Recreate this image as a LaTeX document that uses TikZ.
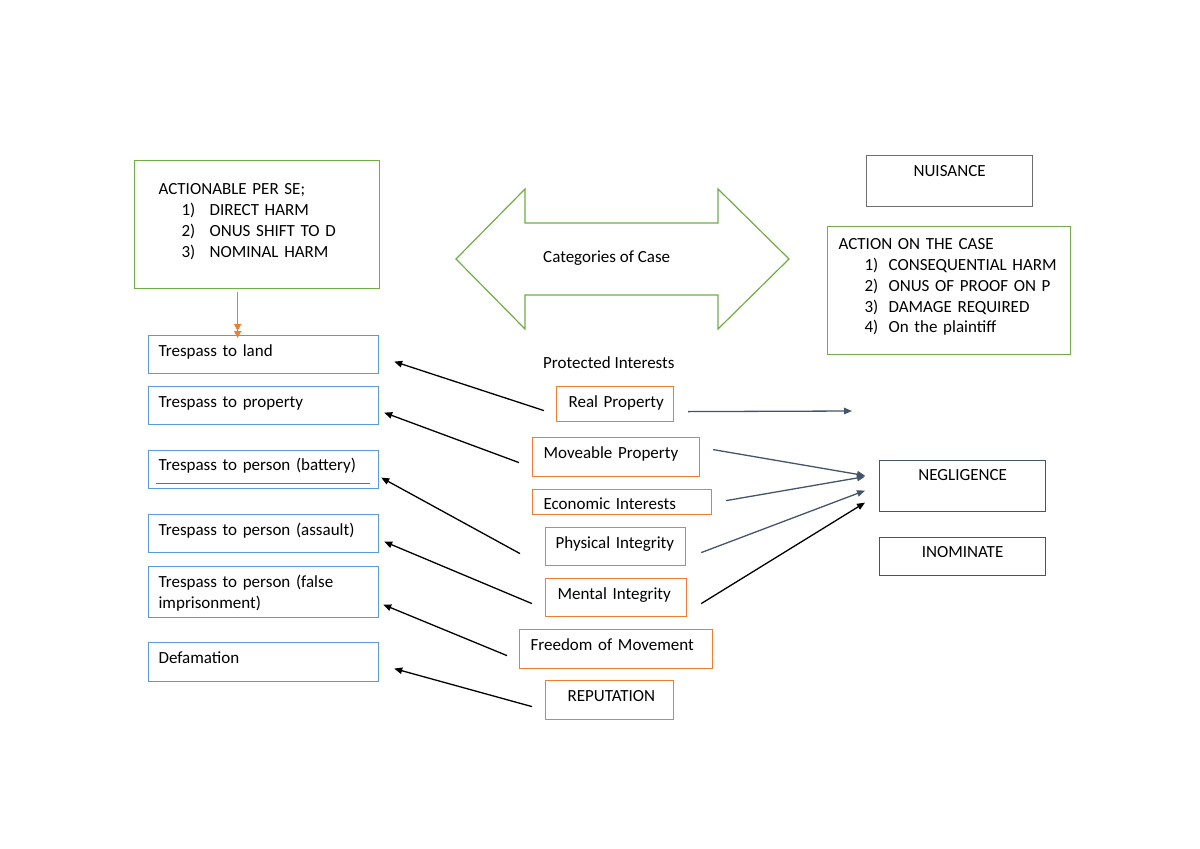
\documentclass[tikz,border=0pt]{standalone}
\usepackage{fontspec}
\setmainfont{Carlito}
\usetikzlibrary{arrows.meta}
\definecolor{ogreen}{HTML}{70AD47}
\definecolor{oblue}{HTML}{5B9BD5}
\definecolor{oorange}{HTML}{ED7D31}
\definecolor{oslate}{HTML}{44546A}
\definecolor{ogray}{HTML}{6E6E6E}
\begin{document}
\begin{tikzpicture}[x=1pt,y=-1pt,
  every node/.style={font=\fontsize{17}{20.8}\selectfont, text=black},
  box/.style={draw, rectangle, line width=1.2pt, anchor=north west,
    inner ysep=0pt, align=left},
  lbox/.style={box, draw=oblue, inner xsep=10pt, minimum width=230pt,
    text width=210pt},
  obox/.style={box, draw=oorange},
  gbox/.style={box, draw=ogreen},
  cbox/.style={box, align=center, inner xsep=0pt},
  tip/.style={-{Triangle[length=8pt,width=6.5pt]}, line width=1.3pt},
  blk/.style={tip, draw=black},
  slt/.style={tip, draw=oslate},
]
\useasboundingbox (0,0) rectangle (1200,849);

% ---- headline boxes ----
\node[gbox, inner xsep=24pt, minimum width=245pt, text width=197pt,
  text height=34pt, text depth=94pt] (perse) at (134,160)
  {ACTIONABLE PER SE;\\
   \hspace*{23pt}\makebox[28pt][l]{1)}DIRECT HARM\\
   \hspace*{23pt}\makebox[28pt][l]{2)}ONUS SHIFT TO D\\
   \hspace*{23pt}\makebox[28pt][l]{3)}NOMINAL HARM};

\node[gbox, inner xsep=11pt, minimum width=243pt, text width=221pt,
  text height=23pt, text depth=105pt] (oncase) at (827,226)
  {\mbox{ACTION ON THE CASE}\\
   \mbox{\hspace*{26pt}\makebox[24pt][l]{1)}CONSEQUENTIAL HARM}\\
   \mbox{\hspace*{26pt}\makebox[24pt][l]{2)}ONUS OF PROOF ON P}\\
   \mbox{\hspace*{26pt}\makebox[24pt][l]{3)}DAMAGE REQUIRED}\\
   \mbox{\hspace*{26pt}\makebox[24pt][l]{4)}On the plaintiff}};

\node[cbox, draw=ogray, minimum width=166pt, text width=166pt,
  text height=21pt, text depth=30pt] (nuisance) at (866,155) {NUISANCE};
\node[cbox, draw=oslate, minimum width=166pt, text width=166pt,
  text height=20pt, text depth=31pt] (negligence) at (879,460) {NEGLIGENCE};
\node[cbox, draw=oslate, minimum width=166pt, text width=166pt,
  text height=20pt, text depth=18pt] (inominate) at (879,537) {INOMINATE};

% ---- double-headed arrow ----
\draw[ogreen, line width=1.2pt, line join=miter]
  (456,259) -- (525,189) -- (525,223) -- (718,223) -- (718,189)
  -- (789,259) -- (718,329) -- (718,295) -- (525,295) -- (525,329) -- cycle;
\node[anchor=base west, inner sep=0pt] (categories) at (543,262) {Categories of Case};
\node[anchor=base west, inner sep=0pt] (protected) at (543,368) {Protected Interests};

% ---- trespass column ----
\node[lbox, text height=21pt, text depth=17pt] (land) at (148,335) {\mbox{Trespass to land}};
\node[lbox, text height=21pt, text depth=17pt] (property) at (148,386) {\mbox{Trespass to property}};
\node[lbox, text height=20pt, text depth=18pt] (battery) at (148,450) {\mbox{Trespass to person (battery)}};
\node[lbox, text height=21pt, text depth=17pt] (assault) at (148,514) {\mbox{Trespass to person (assault)}};
\node[lbox, text height=21pt, text depth=30pt] (falseimp) at (148,566) {\mbox{Trespass to person (false}\\\mbox{imprisonment)}};
\node[lbox, text height=21pt, text depth=18pt] (defamation) at (148,642) {\mbox{Defamation}};
\draw[ogray, line width=0.9pt] (156,483) -- (370,483);

% ---- protected interests column ----
\node[obox, inner xsep=12pt, minimum width=117pt, text width=93pt,
  text height=21pt, text depth=14pt] (real) at (556,386) {\mbox{Real Property}};
\node[obox, inner xsep=11pt, minimum width=167pt, text width=145pt,
  text height=21pt, text depth=18pt] (moveable) at (532,437) {\mbox{Moveable Property}};
\node[obox, inner xsep=11pt, minimum width=179pt, text width=157pt,
  text height=20pt, text depth=5pt] (economic) at (532,489) {\mbox{Economic Interests}};
\node[obox, inner xsep=10pt, minimum width=140pt, text width=120pt,
  text height=21pt, text depth=17pt] (physical) at (545,527) {\mbox{Physical Integrity}};
\node[obox, inner xsep=12pt, minimum width=141pt, text width=117pt,
  text height=21pt, text depth=17pt] (mental) at (545,578) {\mbox{Mental Integrity}};
\node[obox, inner xsep=11pt, minimum width=193pt, text width=171pt,
  text height=21pt, text depth=18pt] (freedom) at (519,629) {\mbox{Freedom of Movement}};
\node[obox, inner xsep=22pt, minimum width=128pt, text width=84pt,
  text height=21pt, text depth=18pt] (reputation) at (545,680) {\mbox{REPUTATION}};

% ---- connectors ----
\draw[tip, draw=oorange, -{Triangle[length=7pt,width=7pt]Triangle[length=7pt,width=7pt]}]
  ([shift={(-19.5,3)}]perse.south) -- ([shift={(-26,3)}]land.north);

\draw[blk] ([shift={(-12,6.5)}]real.west) -- ([shift={(15,7)}]land.east);
\draw[blk] ([shift={(-13,5.5)}]moveable.west) -- ([shift={(5,7)}]property.east);
\draw[blk] ([shift={(-25,7)}]physical.west) -- ([shift={(2,8)}]battery.east);
\draw[blk] ([shift={(-13,6)}]mental.west) -- ([shift={(5,8)}]assault.east);
\draw[blk] ([shift={(-12,6.5)}]freedom.west) -- ([shift={(4,12.5)}]falseimp.east);
\draw[blk] ([shift={(-13,6.5)}]reputation.west) -- ([shift={(15,6.5)}]defamation.east);

\coordinate (realend) at (852,411);
\draw[slt] ([shift={(14,7.5)}]real.east) -- (realend);
\draw[slt] ([shift={(13,-7.5)}]moveable.east) -- ([shift={(-14,-10.5)}]negligence.west);
\draw[slt] ([shift={(14,-1.5)}]economic.east) -- ([shift={(-14,-9.5)}]negligence.west);
\draw[slt] ([shift={(15,6)}]physical.east) -- ([shift={(-14,4.5)}]negligence.west);
\draw[blk] ([shift={(14,6)}]mental.east) -- ([shift={(-14,16.5)}]negligence.west);
\end{tikzpicture}
\end{document}
